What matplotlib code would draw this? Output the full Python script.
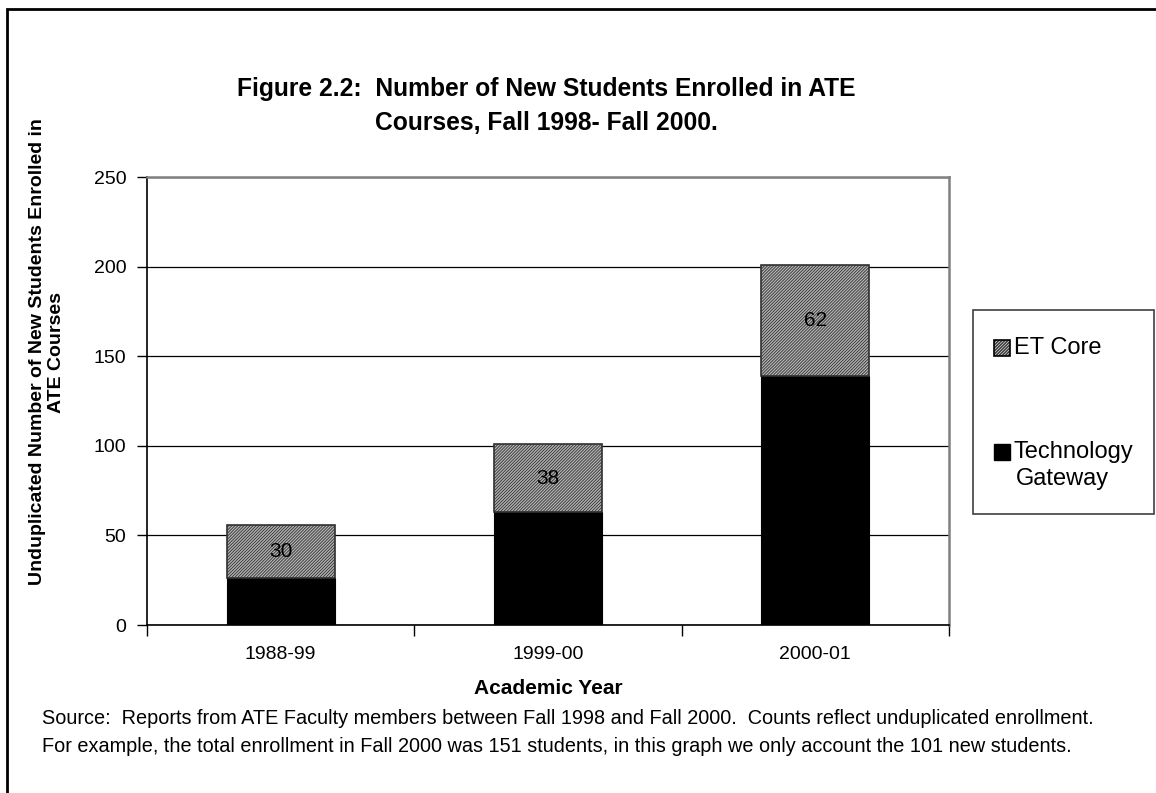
import matplotlib.pyplot as plt
from matplotlib.patches import Rectangle
import numpy as np

plt.rcParams['font.family'] = ['Liberation Sans', 'DejaVu Sans']
plt.rcParams['hatch.linewidth'] = 0.6

# enrollment counts per academic year
years = ["1988-99", "1999-00", "2000-01"]
gateway = [26, 63, 139]
et_core = [30, 38, 62]

fig = plt.figure(figsize=(11.56, 7.93), dpi=100)
W, H = 1156, 793

def fx(px):
    return px / W

def fy(py):
    return 1 - py / H

ax = fig.add_axes([fx(147), fy(625), fx(949) - fx(147), fy(177) - fy(625)])

x = np.arange(len(years))
w = 0.405
hatch_fill = "#b4b4b4"
ax.bar(x, gateway, w, color="black", edgecolor="black", linewidth=0.8, zorder=3)
ax.bar(x, et_core, w, bottom=gateway, color=hatch_fill, edgecolor="#303030",
       hatch="///////////", linewidth=1.2, zorder=3)

for xi, g, e in zip(x, gateway, et_core):
    ax.text(xi, g + e / 2, str(e), ha="center", va="center", fontsize=15, zorder=4)

ax.set_xlim(-0.5, 2.5)
ax.set_ylim(0, 250)
ax.set_yticks(range(0, 251, 50))
ax.set_xticks(x)
ax.set_xticklabels(years, fontsize=14)
ax.set_xticks([-0.5, 0.5, 1.5, 2.5], minor=True)
ax.tick_params(axis="x", which="major", length=0, pad=15)
ax.tick_params(axis="x", which="minor", length=8, width=1, direction="out")
ax.tick_params(axis="y", labelsize=14, length=7, width=1, direction="out", pad=8)
ax.yaxis.grid(True, color="black", linewidth=0.9, zorder=0)
ax.set_axisbelow(True)

for side in ["top", "right"]:
    ax.spines[side].set_color("#808080")
    ax.spines[side].set_linewidth(1.8)
ax.spines["left"].set_linewidth(1.2)
ax.spines["bottom"].set_linewidth(1.2)

ax.set_xlabel("Academic Year", fontsize=15, fontweight="bold", labelpad=12)
fig.text(fx(47), fy(352), "Unduplicated Number of New Students Enrolled in\nATE Courses",
         rotation=90, ha="center", va="center", fontsize=14, fontweight="bold", linespacing=1.2)

fig.text(fx(546), fy(106), "Figure 2.2:  Number of New Students Enrolled in ATE\nCourses, Fall 1998- Fall 2000.",
         ha="center", va="center", fontsize=17.7, fontweight="bold", linespacing=1.55)

fig.text(fx(42), fy(719), "Source:  Reports from ATE Faculty members between Fall 1998 and Fall 2000.  Counts reflect unduplicated enrollment.",
         ha="left", va="center", fontsize=14.3)
fig.text(fx(42), fy(746), "For example, the total enrollment in Fall 2000 was 151 students, in this graph we only account the 101 new students.",
         ha="left", va="center", fontsize=14.3)

# legend box on the right
fig.patches.append(Rectangle((fx(973), fy(514)), fx(1154) - fx(973), fy(310) - fy(514),
                             transform=fig.transFigure, fill=False, edgecolor="#404040", linewidth=1.2))
fig.patches.append(Rectangle((fx(994), fy(356)), fx(16), fy(0) - fy(16), transform=fig.transFigure,
                             facecolor=hatch_fill, edgecolor="black", hatch="///////////", linewidth=1.2))
fig.text(fx(1014), fy(348), "ET Core", ha="left", va="center", fontsize=17)
fig.patches.append(Rectangle((fx(994), fy(460)), fx(16), fy(0) - fy(16), transform=fig.transFigure,
                             facecolor="black", edgecolor="black", linewidth=1.0))
fig.text(fx(1014), fy(452), "Technology", ha="left", va="center", fontsize=17)
fig.text(fx(1016), fy(479), "Gateway", ha="left", va="center", fontsize=17)

# outer frame
fig.patches.append(Rectangle((fx(7), fy(H + 10)), fx(W + 10), fy(9) - fy(H + 10), transform=fig.transFigure,
                             fill=False, edgecolor="black", linewidth=2.0))

plt.savefig("out.png", dpi=100)
